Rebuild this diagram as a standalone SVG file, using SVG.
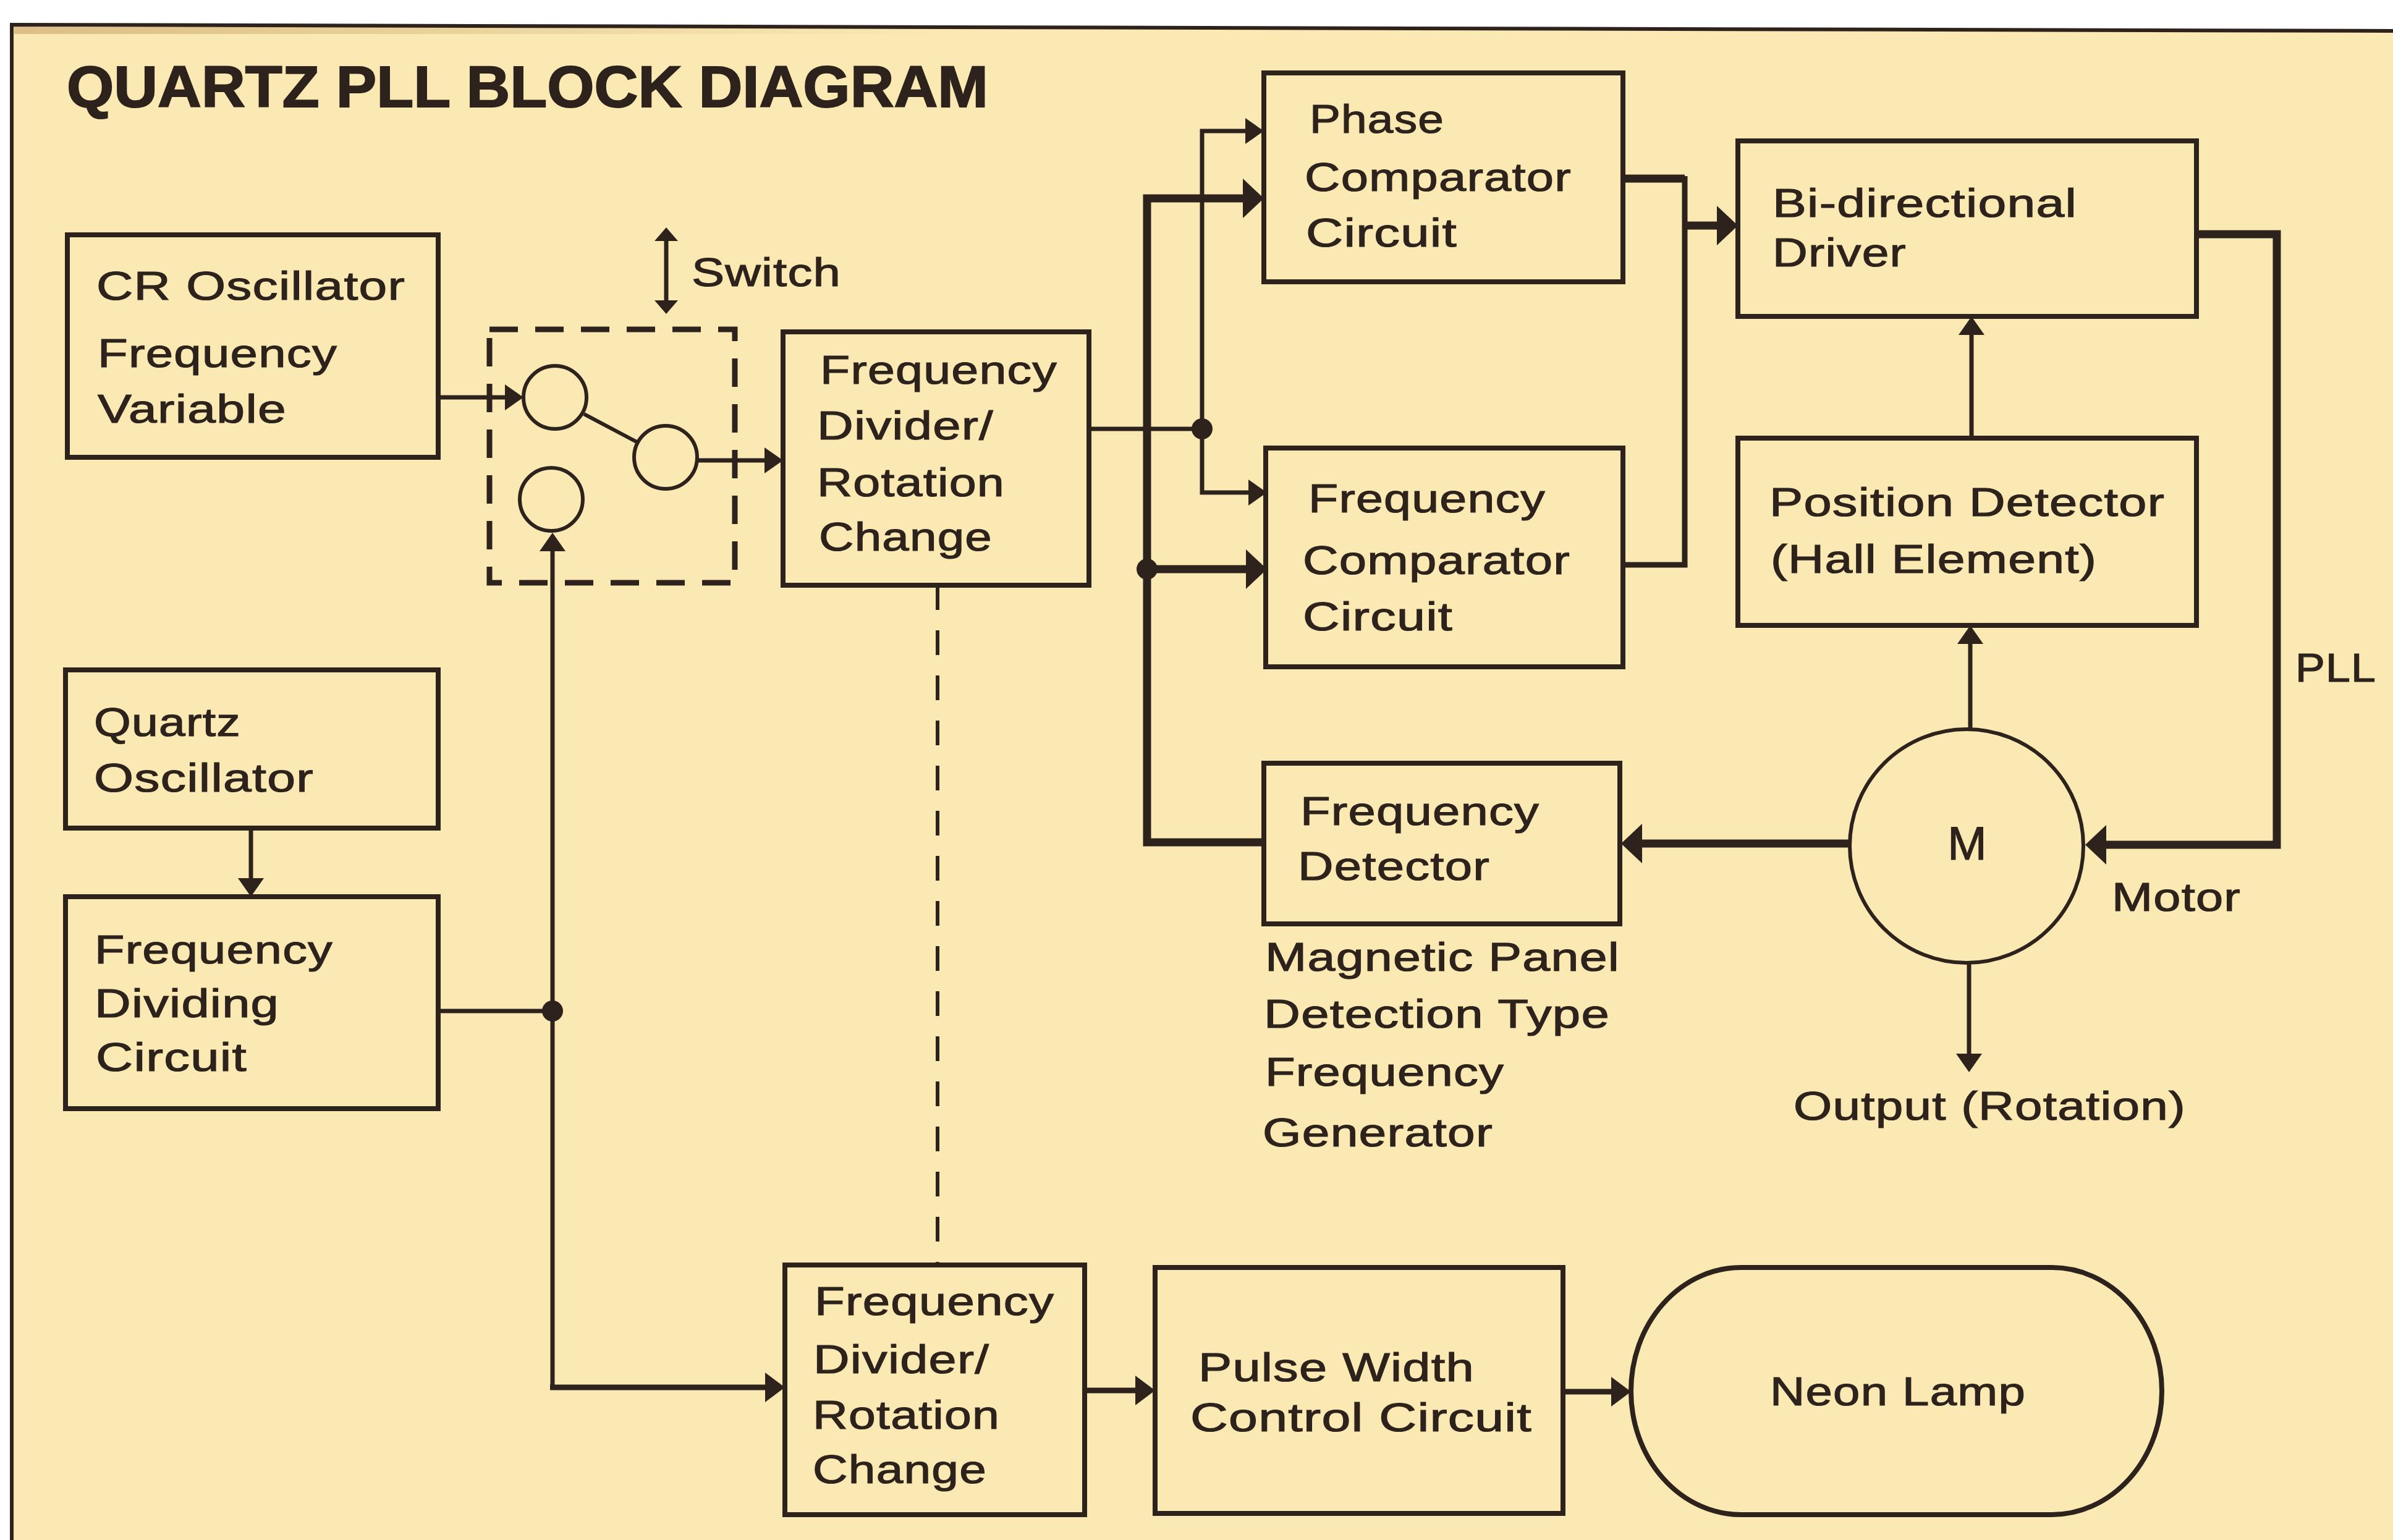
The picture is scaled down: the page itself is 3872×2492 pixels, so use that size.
<svg xmlns="http://www.w3.org/2000/svg" width="3872" height="2492" viewBox="0 0 3872 2492">
<style>
.bg{fill:#FAE9B3}
.frame{fill:none;stroke:#2D231C;stroke-width:6}
.box{fill:none;stroke:#2D231C;stroke-width:8}
.circ{fill:none;stroke:#2D231C;stroke-width:6}
.dash{fill:none;stroke:#2D231C;stroke-width:9;stroke-dasharray:46 28}
.t{font-family:"Liberation Sans",Arial,Helvetica,sans-serif;font-size:64px;fill:#2D231C;stroke:#2D231C;stroke-width:1.2px;letter-spacing:1px}
.m{font-size:76px;letter-spacing:0}
.title{font-family:"Liberation Sans",Arial,Helvetica,sans-serif;font-size:95px;font-weight:bold;fill:#2D231C;stroke:#2D231C;stroke-width:2px}
.thin{fill:none;stroke:#2D231C;stroke-width:7}
.med{fill:none;stroke:#2D231C;stroke-width:9}
.thick{fill:none;stroke:#2D231C;stroke-width:13}
.dl{fill:none;stroke:#2D231C;stroke-width:6;stroke-dasharray:40 33}
.dot{fill:#2D231C}
</style>
<defs>
<linearGradient id="band" x1="0" y1="0" x2="1" y2="0">
<stop offset="0" stop-color="#D9B981" stop-opacity="0.9"/>
<stop offset="1" stop-color="#D9B981" stop-opacity="0"/>
</linearGradient>
<marker id="ah" viewBox="0 -22 30 44" refX="0" refY="0" markerWidth="30" markerHeight="44" markerUnits="userSpaceOnUse" orient="auto-start-reverse"><path d="M0,-21 L30,0 L0,21 z" fill="#2D231C"/></marker>
<marker id="ahS" viewBox="0 -20 22 40" refX="0" refY="0" markerWidth="22" markerHeight="40" markerUnits="userSpaceOnUse" orient="auto-start-reverse"><path d="M0,-19 L22,0 L0,19 z" fill="#2D231C"/></marker>
<marker id="ahM" viewBox="0 -25 32 50" refX="0" refY="0" markerWidth="32" markerHeight="50" markerUnits="userSpaceOnUse" orient="auto-start-reverse"><path d="M0,-24 L32,0 L0,24 z" fill="#2D231C"/></marker>
<marker id="ahT" viewBox="0 -33 34 66" refX="0" refY="0" markerWidth="34" markerHeight="66" markerUnits="userSpaceOnUse" orient="auto-start-reverse"><path d="M0,-32 L34,0 L0,32 z" fill="#2D231C"/></marker>
</defs>

<rect x="0" y="0" width="3872" height="2492" fill="#FFFFFF"/>
<polygon class="bg" points="20,40 3872,50 3872,2492 20,2492"/>
<rect x="23" y="44" width="1500" height="11" fill="url(#band)"/>
<path class="frame" d="M19,2492 V40 L3872,50"/>

<text class="title" x="108" y="173" textLength="1491" lengthAdjust="spacingAndGlyphs">QUARTZ PLL BLOCK DIAGRAM</text>

<g id="connectors">
<path class="thin" d="M709,643 H817" marker-end="url(#ah)"/>
<path class="thin" d="M1129,745 H1237" marker-end="url(#ah)"/>
<path class="thin" d="M709,1636 H894"/>
<path class="thin" d="M894,2245 V892" marker-end="url(#ah)"/>
<path class="med" d="M890,2245 H1238" marker-end="url(#ahM)"/>
<path class="thin" d="M406,1340 V1421" marker-end="url(#ah)"/>
<path class="thin" d="M1078,390 V486" marker-start="url(#ahS)" marker-end="url(#ahS)"/>
<path class="thin" d="M1762,694 H1945"/>
<path class="thin" d="M2015,212 H1945 V797 H2020" marker-start="url(#ah)" marker-end="url(#ah)"/>
<path class="thick" d="M2011,321 H1856 V1363 H2045" marker-start="url(#ahT)"/>
<path class="thick" d="M1856,921 H2016" marker-end="url(#ahT)"/>
<path class="thick" d="M2626,289 H2726"/>
<path class="med" d="M2726,285 V914 H2626"/>
<path class="thick" d="M2726,365 H2778" marker-end="url(#ahT)"/>
<path class="thick" d="M3554,379 H3684 V1367 H3408" marker-end="url(#ahT)"/>
<path class="thin" d="M3190,709 V542" marker-end="url(#ah)"/>
<path class="thin" d="M3188,1180 V1042" marker-end="url(#ah)"/>
<path class="thick" d="M2993,1365 H2657" marker-end="url(#ahT)"/>
<path class="thin" d="M3186,1558 V1705" marker-end="url(#ah)"/>
<path class="med" d="M1755,2250 H1837" marker-end="url(#ahM)"/>
<path class="med" d="M2529,2252 H2607" marker-end="url(#ahM)"/>
<path class="dl" d="M1517,947 V2047"/>
<circle class="dot" cx="894" cy="1636" r="17"/>
<circle class="dot" cx="1945" cy="694" r="17"/>
<circle class="dot" cx="1856" cy="921" r="17"/>
</g>

<g id="cr-oscillator">
<rect class="box" x="109" y="380" width="600" height="360"/>
<text class="t" x="156" y="485" textLength="500" lengthAdjust="spacingAndGlyphs">CR Oscillator</text>
<text class="t" x="158" y="594" textLength="388" lengthAdjust="spacingAndGlyphs">Frequency</text>
<text class="t" x="158" y="684" textLength="306" lengthAdjust="spacingAndGlyphs">Variable</text>
</g>

<g id="switch">
<rect class="dash" x="792" y="533" width="397" height="410"/>
<circle class="circ" cx="898" cy="643" r="51"/>
<circle class="circ" cx="1077" cy="740" r="51"/>
<circle class="circ" cx="892" cy="808" r="51"/>
<path class="circ" d="M945,670 L1032,716"/>
<text class="t" x="1119" y="463" textLength="242" lengthAdjust="spacingAndGlyphs">Switch</text>
</g>

<g id="freq-divider-upper">
<rect class="box" x="1267" y="537" width="495" height="410"/>
<text class="t" x="1327" y="621" textLength="384" lengthAdjust="spacingAndGlyphs">Frequency</text>
<text class="t" x="1322" y="711" textLength="286" lengthAdjust="spacingAndGlyphs">Divider/</text>
<text class="t" x="1322" y="803" textLength="304" lengthAdjust="spacingAndGlyphs">Rotation</text>
<text class="t" x="1325" y="891" textLength="281" lengthAdjust="spacingAndGlyphs">Change</text>
</g>

<g id="phase-comparator">
<rect class="box" x="2045" y="118" width="581" height="338"/>
<text class="t" x="2119" y="215" textLength="218" lengthAdjust="spacingAndGlyphs">Phase</text>
<text class="t" x="2111" y="309" textLength="432" lengthAdjust="spacingAndGlyphs">Comparator</text>
<text class="t" x="2113" y="399" textLength="245" lengthAdjust="spacingAndGlyphs">Circuit</text>
</g>

<g id="freq-comparator">
<rect class="box" x="2048" y="725" width="578" height="354"/>
<text class="t" x="2117" y="829" textLength="384" lengthAdjust="spacingAndGlyphs">Frequency</text>
<text class="t" x="2108" y="929" textLength="433" lengthAdjust="spacingAndGlyphs">Comparator</text>
<text class="t" x="2108" y="1020" textLength="243" lengthAdjust="spacingAndGlyphs">Circuit</text>
</g>

<g id="bidirectional-driver">
<rect class="box" x="2812" y="228" width="742" height="284"/>
<text class="t" x="2868" y="351" textLength="493" lengthAdjust="spacingAndGlyphs">Bi-directional</text>
<text class="t" x="2868" y="431" textLength="217" lengthAdjust="spacingAndGlyphs">Driver</text>
</g>

<g id="position-detector">
<rect class="box" x="2812" y="709" width="742" height="303"/>
<text class="t" x="2863" y="835" textLength="640" lengthAdjust="spacingAndGlyphs">Position Detector</text>
<text class="t" x="2865" y="927" textLength="528" lengthAdjust="spacingAndGlyphs">(Hall Element)</text>
</g>

<g id="frequency-detector">
<rect class="box" x="2045" y="1235" width="576" height="260"/>
<text class="t" x="2104" y="1335" textLength="387" lengthAdjust="spacingAndGlyphs">Frequency</text>
<text class="t" x="2100" y="1424" textLength="311" lengthAdjust="spacingAndGlyphs">Detector</text>
<text class="t" x="2047" y="1571" textLength="574" lengthAdjust="spacingAndGlyphs">Magnetic Panel</text>
<text class="t" x="2045" y="1663" textLength="560" lengthAdjust="spacingAndGlyphs">Detection Type</text>
<text class="t" x="2047" y="1757" textLength="387" lengthAdjust="spacingAndGlyphs">Frequency</text>
<text class="t" x="2043" y="1855" textLength="373" lengthAdjust="spacingAndGlyphs">Generator</text>
</g>

<g id="motor">
<circle class="circ" cx="3182" cy="1369" r="189"/>
<text class="t m" x="3183" y="1391" text-anchor="middle">M</text>
<text class="t" x="3417" y="1474" textLength="209" lengthAdjust="spacingAndGlyphs">Motor</text>
<text class="t" x="2902" y="1812" textLength="635" lengthAdjust="spacingAndGlyphs">Output (Rotation)</text>
</g>

<g id="pll-label">
<text class="t" x="3714" y="1103" textLength="131" lengthAdjust="spacingAndGlyphs">PLL</text>
</g>

<g id="quartz-oscillator">
<rect class="box" x="106" y="1084" width="603" height="256"/>
<text class="t" x="152" y="1191" textLength="238" lengthAdjust="spacingAndGlyphs">Quartz</text>
<text class="t" x="152" y="1281" textLength="356" lengthAdjust="spacingAndGlyphs">Oscillator</text>
</g>

<g id="frequency-dividing-circuit">
<rect class="box" x="106" y="1451" width="603" height="343"/>
<text class="t" x="153" y="1559" textLength="386" lengthAdjust="spacingAndGlyphs">Frequency</text>
<text class="t" x="153" y="1646" textLength="299" lengthAdjust="spacingAndGlyphs">Dividing</text>
<text class="t" x="155" y="1733" textLength="245" lengthAdjust="spacingAndGlyphs">Circuit</text>
</g>

<g id="freq-divider-lower">
<rect class="box" x="1270" y="2047" width="485" height="404"/>
<text class="t" x="1318" y="2128" textLength="388" lengthAdjust="spacingAndGlyphs">Frequency</text>
<text class="t" x="1316" y="2222" textLength="285" lengthAdjust="spacingAndGlyphs">Divider/</text>
<text class="t" x="1315" y="2312" textLength="303" lengthAdjust="spacingAndGlyphs">Rotation</text>
<text class="t" x="1315" y="2400" textLength="282" lengthAdjust="spacingAndGlyphs">Change</text>
</g>

<g id="pulse-width-control">
<rect class="box" x="1869" y="2051" width="660" height="398"/>
<text class="t" x="1939" y="2235" textLength="447" lengthAdjust="spacingAndGlyphs">Pulse Width</text>
<text class="t" x="1926" y="2316" textLength="553" lengthAdjust="spacingAndGlyphs">Control Circuit</text>
</g>

<g id="neon-lamp">
<rect class="box" x="2639" y="2051" width="859" height="400" rx="178" ry="200"/>
<text class="t" x="2864" y="2274" textLength="414" lengthAdjust="spacingAndGlyphs">Neon Lamp</text>
</g>
</svg>
